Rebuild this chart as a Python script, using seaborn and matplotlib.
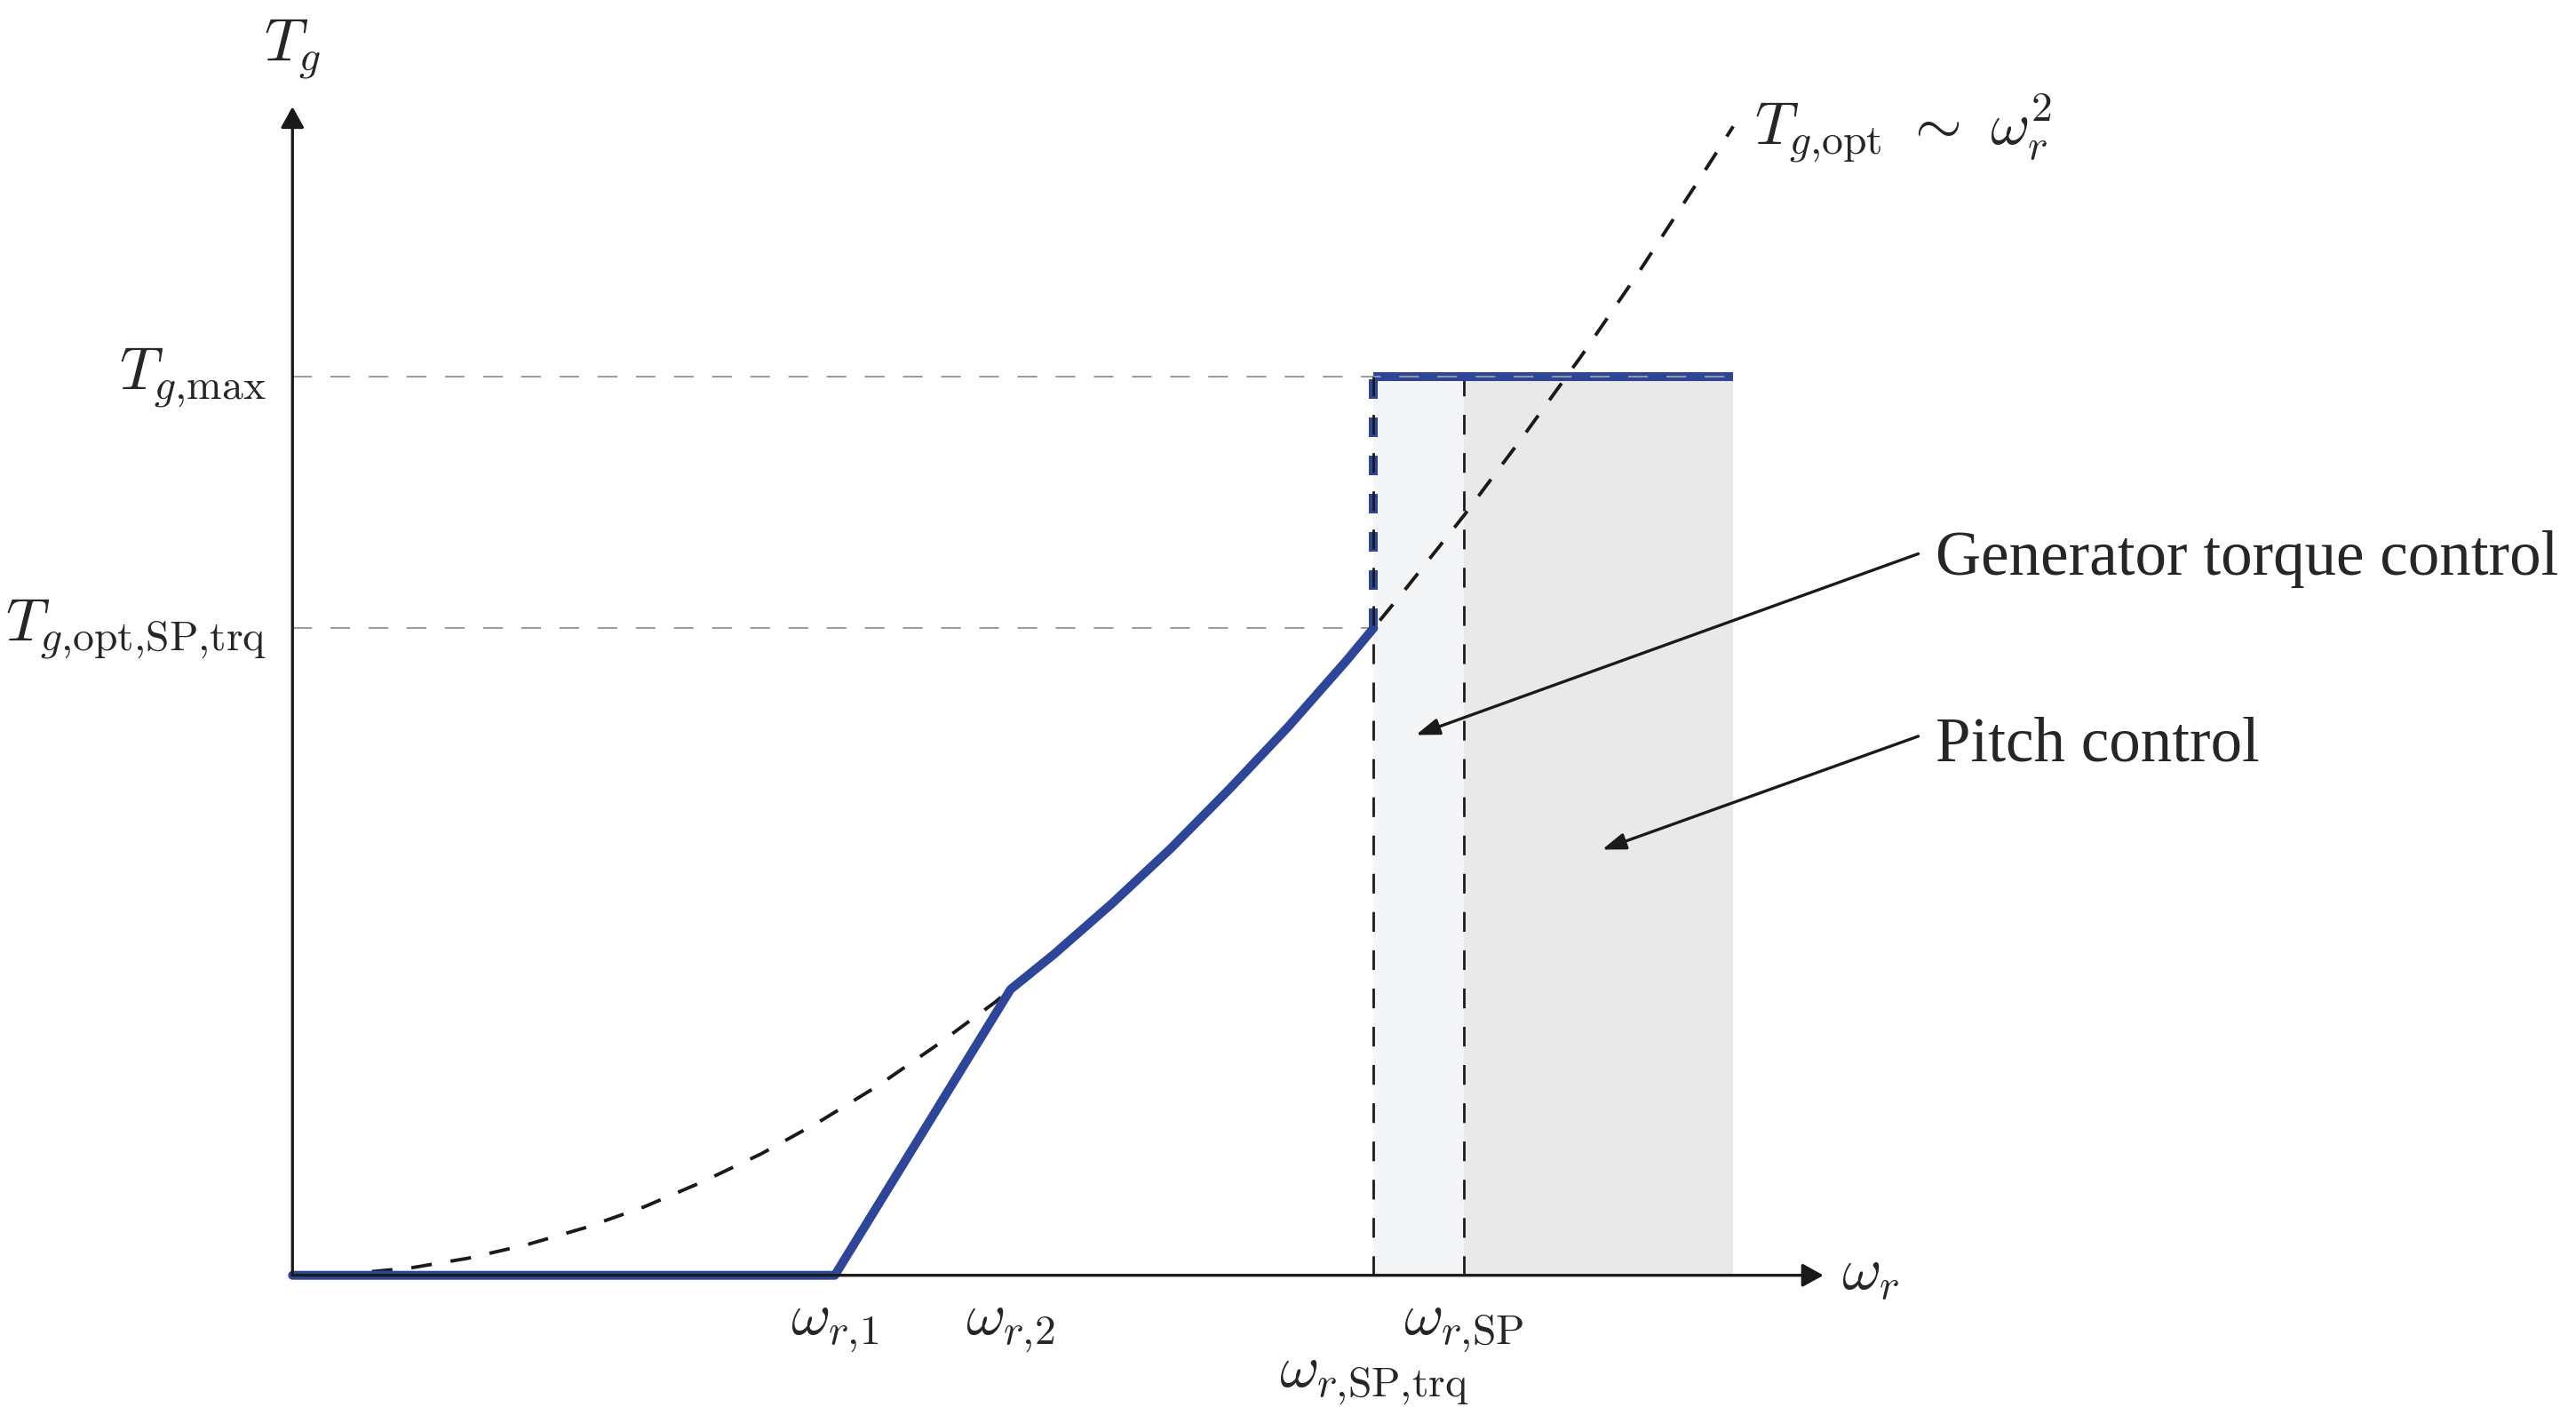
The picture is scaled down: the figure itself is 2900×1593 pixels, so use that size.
import matplotlib
matplotlib.use("Agg")
import matplotlib.pyplot as plt
import seaborn as sns

# operating points (omega normalised to omega_r,SP, torque normalised to T_g,max)
omega_r1 = 0.463
omega_r2 = 0.613
omega_sp_trq = 0.923
omega_sp = 1.0
omega_end = 1.230
torque_max = 1.0
torque_opt_sp_trq = 0.720
torque_r2 = 0.318

# optimal torque curve T_g,opt ~ omega_r^2
curve_omega = [0.0, 0.05, 0.10, 0.15, 0.20, 0.25, 0.30, 0.35, 0.40, 0.45, 0.50, 0.55,
               0.60, 0.613, 0.65, 0.70, 0.75, 0.80, 0.85, 0.90, 0.923, 0.95, 1.00,
               1.05, 1.10, 1.15, 1.20, 1.23]
curve_torque = [0.0, 0.002, 0.008, 0.019, 0.034, 0.053, 0.076, 0.104, 0.135, 0.171,
                0.211, 0.256, 0.304, 0.318, 0.357, 0.414, 0.475, 0.541, 0.610, 0.684,
                0.720, 0.763, 0.845, 0.932, 1.022, 1.117, 1.217, 1.278]

tick_omega = [omega_r1, omega_r2, omega_sp]
tick_omega_labels = [r"$\omega_{r{,}1}$", r"$\omega_{r{,}2}$", r"$\omega_{r{,}\mathrm{SP}}$"]
tick_torque = [torque_max, torque_opt_sp_trq]
tick_torque_labels = [r"$T_{g{,}\mathrm{max}}$", r"$T_{g{,}\mathrm{opt{,}SP{,}trq}}$"]

BLUE = "#2e4699"
BLACK = "#1a1a1a"
GREY = "#9a9a9a"

sns.set_theme(style="white")
plt.rcParams["font.family"] = ["Liberation Serif", "DejaVu Serif"]
plt.rcParams["mathtext.fontset"] = "cm"

fig = plt.figure(figsize=(14.5, 7.965), dpi=200)
ax = fig.add_axes([0, 0, 1, 1])
ax.set_xlim(-0.2497, 1.9495)
ax.set_ylim(-0.1554, 1.4186)
ax.set_axis_off()

# control regions
ax.fill_between([omega_sp_trq, omega_sp], 0, torque_max, color="#f4f5f7", lw=0, zorder=0.5)
ax.fill_between([omega_sp, omega_end], 0, torque_max, color="#e9e9e9", lw=0, zorder=0.5)

# helper lines
ax.plot([0, omega_end], [torque_max, torque_max], color=GREY, lw=0.7,
        ls=(0, (11.4, 10.7)), zorder=6)
ax.plot([0, omega_sp_trq], [torque_opt_sp_trq, torque_opt_sp_trq], color=GREY, lw=0.7,
        ls=(0, (11.4, 10.7)), zorder=2)
ax.plot([omega_sp, omega_sp], [0, torque_max], color=BLACK, lw=1.0,
        ls=(0, (8, 7.5)), zorder=3)

# optimal curve
sns.lineplot(x=curve_omega, y=curve_torque, ax=ax, color=BLACK, lw=1.4,
             linestyle=(0, (6, 5.5)), sort=False, estimator=None, zorder=3)

# generator torque
mid = [i for i, w in enumerate(curve_omega) if omega_r2 < w < omega_sp_trq]
blue_omega = [0.0, omega_r1, omega_r2] + [curve_omega[i] for i in mid] + [omega_sp_trq]
blue_torque = [0.0, 0.0, torque_r2] + [curve_torque[i] for i in mid] + [torque_opt_sp_trq]
sns.lineplot(x=blue_omega, y=blue_torque, ax=ax, color=BLUE, lw=3.6, sort=False,
             estimator=None, zorder=4)
sns.lineplot(x=[omega_sp_trq, omega_end], y=[torque_max, torque_max], ax=ax, color=BLUE,
             lw=3.6, sort=False, estimator=None, zorder=5, solid_capstyle="butt")
ax.plot([omega_sp_trq, omega_sp_trq], [torque_opt_sp_trq, torque_max], color=BLUE, lw=3.6,
        ls=(0, (2.2, 2.1)), dash_capstyle="butt", zorder=5)
ax.plot([omega_sp_trq, omega_sp_trq], [0, torque_max], color=BLACK, lw=1.0,
        ls=(0, (8, 7.5)), zorder=6)

# axes with arrow heads
axis_arrow = dict(arrowstyle="-|>,head_length=0.36,head_width=0.2", lw=1.2, color=BLACK,
                  mutation_scale=20, shrinkA=0, shrinkB=0)
ax.annotate("", xy=(1.307, 0), xytext=(0, 0), arrowprops=axis_arrow, zorder=7)
ax.annotate("", xy=(0, 1.30), xytext=(0, 0), arrowprops=axis_arrow, zorder=7)

math_size = 24.5
ax.text(1.322, 0, r"$\omega_r$", fontsize=math_size, ha="left", va="center")
ax.text(0, 1.364, r"$T_g$", fontsize=math_size, ha="center", va="center")

for w, lab in zip(tick_omega, tick_omega_labels):
    ax.text(w, -0.028, lab, fontsize=math_size, ha="center", va="top")
ax.text(omega_sp_trq, -0.086, r"$\omega_{r{,}\mathrm{SP{,}trq}}$", fontsize=math_size,
        ha="center", va="top")
for t, lab in zip(tick_torque, tick_torque_labels):
    ax.text(-0.022, t - 0.014, lab, fontsize=math_size, ha="right", va="baseline")

ax.text(1.248, 1.258, r"$T_{g{,}\mathrm{opt}}\ \sim\ \omega_r^2$", fontsize=math_size,
        ha="left", va="baseline")

note_arrow = dict(arrowstyle="-|>,head_length=0.4,head_width=0.14", lw=1.2, color=BLACK,
                  mutation_scale=20, shrinkA=0, shrinkB=0)
ax.annotate("", xy=(0.959, 0.601), xytext=(1.388, 0.8026), arrowprops=note_arrow)
ax.annotate("", xy=(1.118, 0.4735), xytext=(1.388, 0.5996), arrowprops=note_arrow)
ax.text(1.4025, 0.779, "Generator torque control", fontsize=25.5, ha="left", va="baseline")
ax.text(1.4025, 0.572, "Pitch control", fontsize=25.5, ha="left", va="baseline")

fig.savefig("out.png", dpi=200)
